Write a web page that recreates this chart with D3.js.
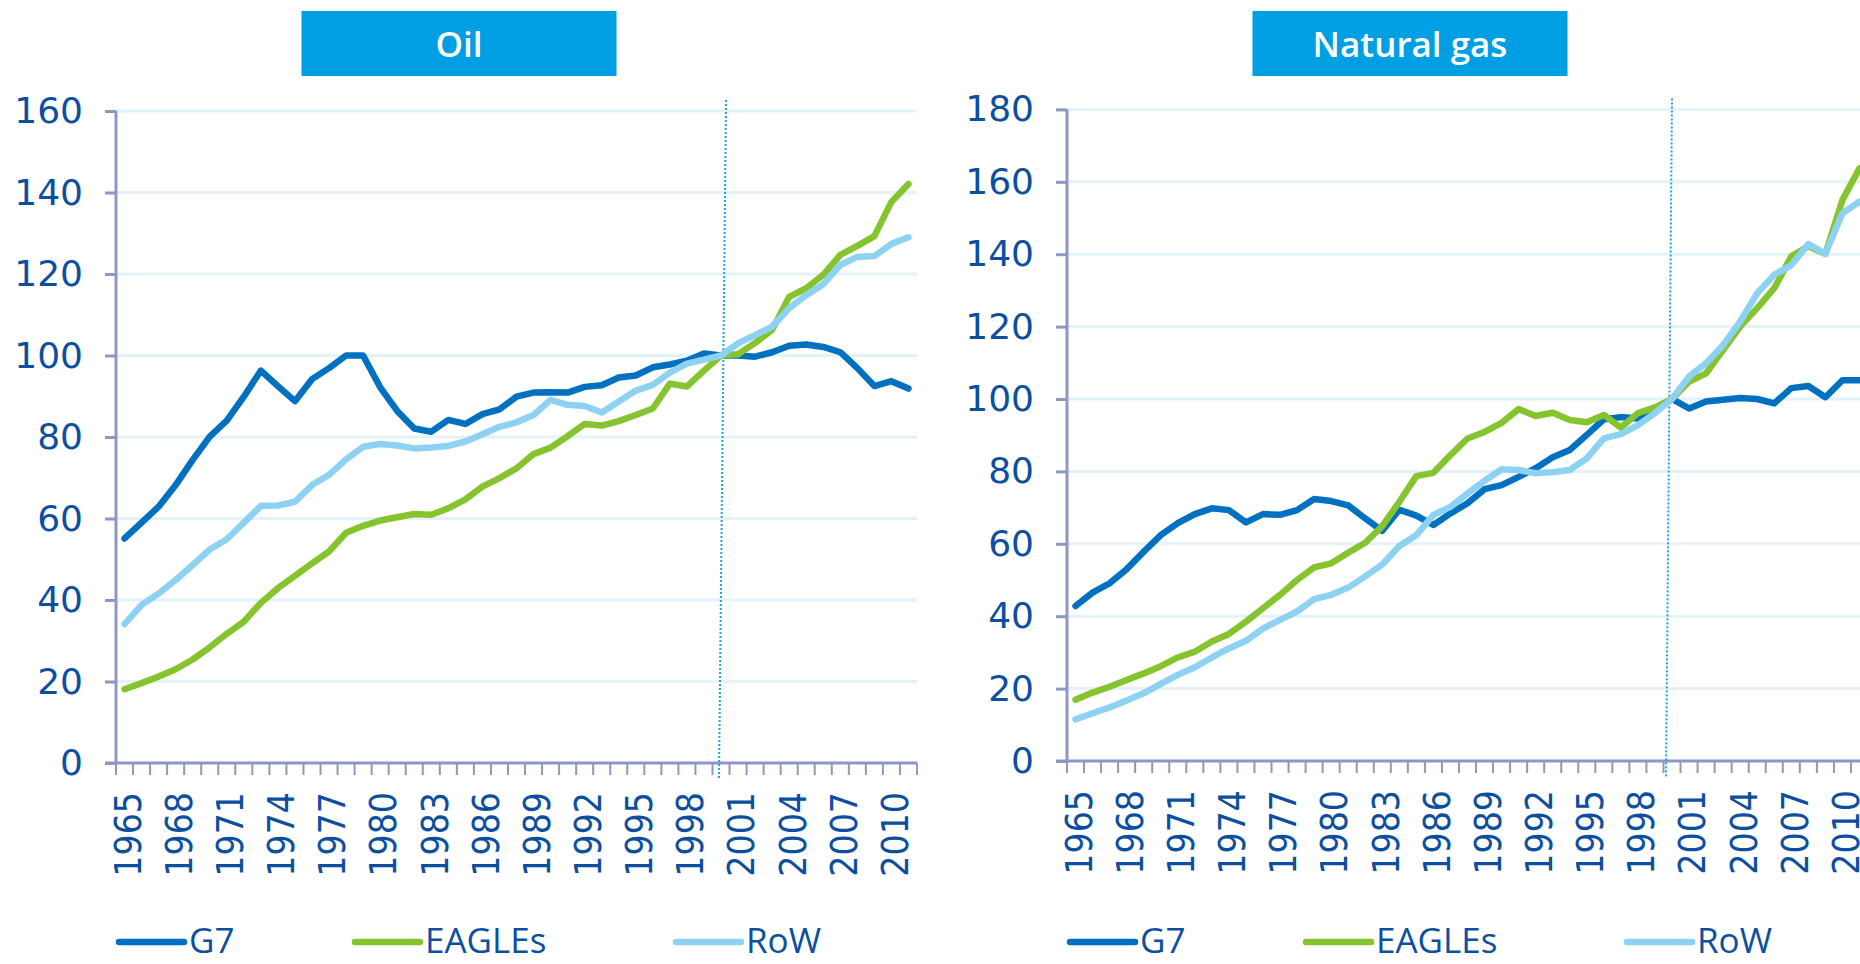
<!DOCTYPE html>
<html>
<head>
<meta charset="utf-8">
<script src="https://cdn.jsdelivr.net/npm/d3@7"></script>
<style>
  html, body { margin: 0; padding: 0; background: #ffffff; }
  svg { display: block; }
</style>
</head>
<body>
<svg id="chart" width="1860" height="964"></svg>
<script>
// ---------------- DATA ----------------
const years = [1965,1966,1967,1968,1969,1970,1971,1972,1973,1974,1975,1976,1977,1978,1979,1980,
  1981,1982,1983,1984,1985,1986,1987,1988,1989,1990,1991,1992,1993,1994,1995,1996,1997,1998,1999,
  2000,2001,2002,2003,2004,2005,2006,2007,2008,2009,2010,2011];
const yearTickLabels = [1965,1968,1971,1974,1977,1980,1983,1986,1989,1992,1995,1998,2001,2004,2007,2010];
const seriesNames = ["G7", "EAGLEs", "RoW"];
const panelTitles = ["Oil", "Natural gas"];
const oilTicks = [0,20,40,60,80,100,120,140,160];
const gasTicks = [0,20,40,60,80,100,120,140,160,180];
const baseYear = 2000;

const oilG7 = [55.1,59.0,62.9,68.2,74.4,80.1,84.0,89.9,96.3,92.5,88.8,94.2,96.9,100,100,92.2,86.4,
  82.1,81.3,84.2,83.2,85.6,86.8,89.9,90.9,91.0,90.9,92.3,92.7,94.6,95.1,97.1,97.8,
  98.7,100.5,100,100,99.7,100.8,102.4,102.7,102.1,100.8,96.9,92.5,93.7,91.9];
const oilEAGLEs = [18.1,19.6,21.2,23.0,25.4,28.4,31.7,34.7,39.3,42.9,45.9,49.0,51.9,56.5,58.2,59.5,60.3,
  61.1,60.9,62.5,64.7,67.8,69.9,72.3,75.8,77.4,80.2,83.2,82.8,83.9,85.4,87.0,93.1,
  92.4,96.3,100,100.3,103.1,106.3,114.4,116.5,119.8,124.7,126.9,129.3,137.7,142.1];
const oilRoW = [34.1,38.8,41.6,44.9,48.6,52.4,54.9,59.0,63.1,63.2,64.1,68.2,70.7,74.5,77.6,78.3,77.9,
  77.2,77.4,77.8,78.9,80.7,82.5,83.6,85.4,89.1,87.9,87.6,86.0,88.7,91.4,92.8,95.8,
  98.0,99.0,100,103.0,105.0,107.1,111.6,114.8,117.5,122.2,124.2,124.4,127.4,129.0];

const gasG7 = [42.8,46.5,49.1,53.0,57.8,62.4,65.7,68.2,69.8,69.3,65.9,68.2,68.0,69.3,72.4,71.8,70.6,
  67.0,63.6,69.4,67.8,65.2,68.4,71.2,75.1,76.2,78.5,80.9,83.9,85.9,90.1,94.4,95.0,
  94.6,96.9,100,97.4,99.3,99.8,100.3,100,98.8,103.0,103.6,100.5,105.2,105.2];
const gasEAGLEs = [16.9,18.9,20.5,22.4,24.2,26.2,28.6,30.2,33.0,35.1,38.5,42.2,45.9,50.0,53.5,54.6,57.5,
  60.3,64.9,71.6,78.7,79.6,84.5,89.1,90.9,93.4,97.2,95.3,96.2,94.2,93.6,95.6,92.1,
  96.1,97.7,100,104.8,107.1,113.5,120,125.1,130.6,139.4,142.2,140.1,155.0,163.7];
const gasRoW = [11.5,13.2,14.8,16.7,18.7,21.3,23.8,25.9,28.6,31.1,33.2,36.6,39.0,41.3,44.7,45.9,47.9,
  51.0,54.3,59.4,62.4,68.0,70.2,73.9,77.4,80.6,80.4,79.5,79.8,80.4,83.6,89.1,90.3,
  92.8,96.1,100,106.2,109.9,114.9,121.4,129.2,134.3,137.0,142.8,140.1,151.3,154.5];

// ---------------- STYLE / LAYOUT ----------------
const colors = { G7: "#0070C0", EAGLEs: "#86C42E", RoW: "#8DD2F3" };
const textColor = "#0C4FA0";
const axisColor = "#8E97C3";
const gridColor = "#E4F2FA";
const titleFill = "#009FE3";

const panels = [
  { title: panelTitles[0], left: 116, right: 917, top: 111, bottom: 763, ticks: oilTicks,
    series: [oilG7, oilEAGLEs, oilRoW], dotTop: 5, dotBottom: -2 },
  { title: panelTitles[1], left: 1067, right: 1868, top: 109.4, bottom: 761, ticks: gasTicks,
    series: [gasG7, gasEAGLEs, gasRoW], dotTop: 0, dotBottom: -6 }
];

const svg = d3.select("#chart");

panels.forEach(p => {
  const g = svg.append("g");
  const x = d3.scaleBand().domain(years).range([p.left, p.right]).padding(0);
  const bw = x.bandwidth();
  const y = d3.scaleLinear().domain([0, d3.max(p.ticks)]).range([p.bottom, p.top]);

  // gridlines
  g.append("g").selectAll("line").data(p.ticks.filter(t => t > 0)).join("line")
    .attr("x1", p.left).attr("x2", p.right)
    .attr("y1", d => y(d)).attr("y2", d => y(d))
    .attr("stroke", gridColor).attr("stroke-width", 3);

  // y axis
  const yAxis = g.append("g").attr("transform", `translate(${p.left},0)`)
    .call(d3.axisLeft(y).tickValues(p.ticks).tickSize(11).tickPadding(22).tickFormat(d3.format("d")));
  yAxis.select(".domain").remove();
  yAxis.selectAll(".tick line").attr("stroke", axisColor).attr("stroke-width", 3);
  yAxis.selectAll(".tick text")
    .attr("fill", textColor)
    .style("font-family", "'DejaVu Sans', Verdana, sans-serif")
    .style("font-size", "36px");
  g.append("line").attr("x1", p.left).attr("x2", p.left)
    .attr("y1", p.top).attr("y2", p.bottom + 1.5)
    .attr("stroke", axisColor).attr("stroke-width", 3);

  // x axis line + boundary ticks
  g.append("line").attr("x1", p.left - 11).attr("x2", p.right)
    .attr("y1", p.bottom).attr("y2", p.bottom)
    .attr("stroke", axisColor).attr("stroke-width", 3);
  const bounds = years.map(yr => x(yr)).concat([x(years[years.length - 1]) + bw]);
  g.append("g").selectAll("line").data(bounds).join("line")
    .attr("x1", d => d).attr("x2", d => d)
    .attr("y1", p.bottom).attr("y2", p.bottom + 12)
    .attr("stroke", axisColor).attr("stroke-width", 2);

  // x labels
  const xAxis = g.append("g").attr("transform", `translate(0,${p.bottom})`)
    .call(d3.axisBottom(x).tickValues(yearTickLabels).tickSize(0).tickFormat(d3.format("d")));
  xAxis.select(".domain").remove();
  xAxis.selectAll(".tick text")
    .attr("transform", "rotate(-90)")
    .attr("text-anchor", "end")
    .attr("x", -29)
    .attr("y", 3)
    .attr("dy", "0.36em")
    .attr("fill", textColor)
    .style("font-family", "'DejaVu Sans Condensed', 'Liberation Sans', Arial, sans-serif")
    .style("font-size", "37px");

  // dotted base-year line
  const xb = x(baseYear) + bw / 2;
  g.append("line")
    .attr("x1", xb + p.dotTop).attr("y1", p.top - 11)
    .attr("x2", xb + p.dotBottom).attr("y2", p.bottom + 16)
    .attr("stroke", "#1CA3E3").attr("stroke-width", 2)
    .attr("stroke-dasharray", "2,2");

  // series lines
  const line = d3.line()
    .x((d, i) => x(years[i]) + bw / 2)
    .y(d => y(d));
  p.series.forEach((vals, si) => {
    g.append("path").datum(vals)
      .attr("d", line)
      .attr("fill", "none")
      .attr("stroke", colors[seriesNames[si]])
      .attr("stroke-width", 6.5)
      .attr("stroke-linejoin", "round")
      .attr("stroke-linecap", "round");
  });

  // title box
  const tcx = p.left + 343;
  g.append("rect").attr("x", tcx - 157.5).attr("y", 11).attr("width", 315).attr("height", 65)
    .attr("fill", titleFill);
  g.append("text").attr("x", tcx).attr("y", 57).attr("text-anchor", "middle")
    .attr("fill", "#ffffff")
    .style("font-family", "'Open Sans', sans-serif")
    .style("font-weight", 600)
    .style("font-size", "35px")
    .text(p.title);

  // legend
  const legOffsets = [0, 236, 557];
  seriesNames.forEach((name, i) => {
    const lx = p.left + legOffsets[i];
    g.append("line").attr("x1", lx + 3).attr("x2", lx + 68)
      .attr("y1", 942).attr("y2", 942)
      .attr("stroke", colors[name]).attr("stroke-width", 6.5)
      .attr("stroke-linecap", "round");
    g.append("text").attr("x", lx + 73).attr("y", 953)
      .attr("fill", textColor)
      .style("font-family", "'Open Sans', sans-serif")
      .style("font-size", "35px")
      .text(name);
  });
});
</script>
</body>
</html>
